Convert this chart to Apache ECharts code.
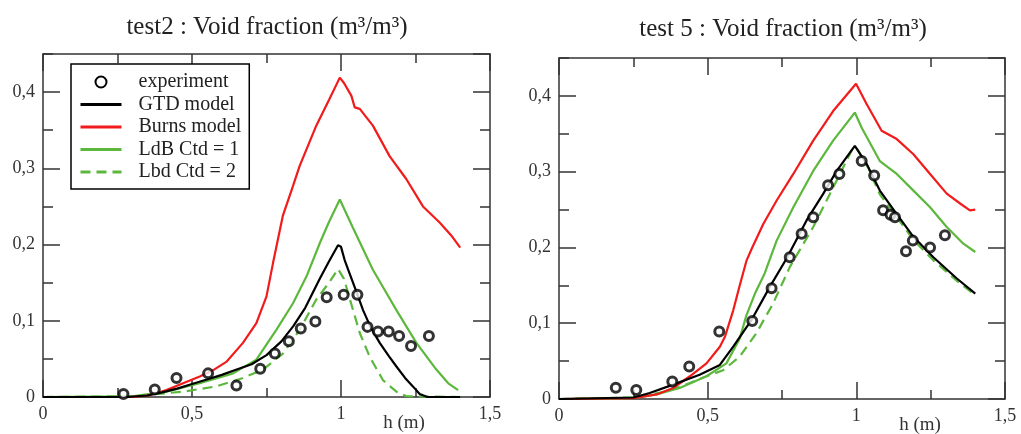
<!DOCTYPE html>
<html>
<head>
<meta charset="utf-8">
<script src="https://cdn.jsdelivr.net/npm/echarts@6/dist/echarts.min.js"></script>
<style>
  html, body { margin: 0; padding: 0; background: #fff; }
  #chart { width: 1021px; height: 434px; }
</style>
</head>
<body>
<div id="chart"></div>
<script>
// test2 (left panel)
const t2ExpX = [0.27, 0.375, 0.448, 0.554, 0.649, 0.729, 0.778, 0.825, 0.865, 0.914, 0.952, 1.009, 1.055, 1.089, 1.124, 1.16, 1.195, 1.235, 1.295];
const t2ExpY = [0.004, 0.010, 0.025, 0.031, 0.015, 0.037, 0.057, 0.073, 0.09, 0.099, 0.131, 0.134, 0.134, 0.092, 0.086, 0.086, 0.080, 0.067, 0.080];
const t2GtdX = [0, 0.28, 0.35, 0.4, 0.45, 0.5, 0.55, 0.6, 0.65, 0.7, 0.75, 0.8, 0.84, 0.88, 0.93, 0.96, 0.99, 1.0, 1.012, 1.024, 1.05, 1.074, 1.1, 1.13, 1.16, 1.186, 1.215, 1.242, 1.264, 1.29, 1.4];
const t2GtdY = [0, 0, 0.002, 0.006, 0.011, 0.017, 0.023, 0.029, 0.036, 0.043, 0.055, 0.073, 0.093, 0.117, 0.156, 0.178, 0.199, 0.197, 0.18, 0.167, 0.14, 0.114, 0.091, 0.071, 0.054, 0.04, 0.025, 0.0136, 0.004, 0, 0];
const t2BurnsX = [0, 0.3, 0.35, 0.38, 0.414, 0.47, 0.526, 0.57, 0.615, 0.671, 0.716, 0.75, 0.772, 0.805, 0.839, 0.861, 0.917, 0.96, 0.996, 1.01, 1.035, 1.046, 1.063, 1.107, 1.163, 1.219, 1.275, 1.331, 1.37, 1.4];
const t2BurnsY = [0, 0, 0.002, 0.005, 0.009, 0.018, 0.027, 0.035, 0.046, 0.071, 0.097, 0.132, 0.176, 0.238, 0.277, 0.303, 0.356, 0.39, 0.419, 0.412, 0.395, 0.38, 0.378, 0.356, 0.316, 0.286, 0.25, 0.229, 0.212, 0.196];
const t2Ctd1X = [0, 0.3, 0.414, 0.526, 0.638, 0.716, 0.783, 0.839, 0.884, 0.929, 0.96, 0.996, 1.04, 1.091, 1.107, 1.15, 1.186, 1.253, 1.32, 1.36, 1.393];
const t2Ctd1Y = [0, 0.001, 0.007, 0.018, 0.031, 0.049, 0.088, 0.123, 0.158, 0.202, 0.23, 0.259, 0.222, 0.18, 0.167, 0.138, 0.114, 0.071, 0.036, 0.018, 0.009];
const t2Ctd2X = [0, 0.3, 0.47, 0.582, 0.671, 0.738, 0.805, 0.861, 0.917, 0.96, 0.99, 1.01, 1.03, 1.063, 1.096, 1.141, 1.186, 1.22, 1.4];
const t2Ctd2Y = [0, 0.001, 0.007, 0.014, 0.025, 0.036, 0.057, 0.088, 0.128, 0.15, 0.168, 0.155, 0.128, 0.084, 0.053, 0.022, 0.007, 0.001, 0];

// test 5 (right panel)
const t5ExpX = [0.191, 0.26, 0.381, 0.438, 0.539, 0.65, 0.715, 0.776, 0.816, 0.855, 0.905, 0.943, 1.018, 1.06, 1.09, 1.115, 1.13, 1.167, 1.19, 1.248, 1.298];
const t5ExpY = [0.015, 0.012, 0.023, 0.043, 0.089, 0.103, 0.146, 0.187, 0.218, 0.24, 0.282, 0.297, 0.314, 0.295, 0.249, 0.243, 0.24, 0.195, 0.209, 0.2, 0.216];
const t5GtdX = [0, 0.25, 0.305, 0.384, 0.473, 0.541, 0.586, 0.647, 0.709, 0.765, 0.833, 0.889, 0.934, 0.995, 1.035, 1.079, 1.136, 1.192, 1.259, 1.338, 1.4];
const t5GtdY = [0, 0.002, 0.008, 0.019, 0.032, 0.045, 0.069, 0.104, 0.148, 0.185, 0.236, 0.271, 0.301, 0.334, 0.31, 0.275, 0.244, 0.214, 0.187, 0.159, 0.139];
const t5BurnsX = [0, 0.25, 0.328, 0.384, 0.44, 0.496, 0.541, 0.558, 0.586, 0.608, 0.631, 0.65, 0.687, 0.732, 0.788, 0.855, 0.922, 0.999, 1.035, 1.085, 1.136, 1.192, 1.248, 1.304, 1.349, 1.382, 1.4];
const t5BurnsY = [0, 0.001, 0.006, 0.0145, 0.03, 0.047, 0.069, 0.082, 0.117, 0.15, 0.183, 0.2, 0.231, 0.262, 0.297, 0.341, 0.38, 0.416, 0.389, 0.354, 0.343, 0.323, 0.297, 0.271, 0.258, 0.249, 0.25];
const t5Ctd1X = [0, 0.25, 0.328, 0.406, 0.496, 0.563, 0.608, 0.63, 0.66, 0.692, 0.732, 0.788, 0.855, 0.922, 0.995, 1.018, 1.079, 1.136, 1.192, 1.248, 1.304, 1.36, 1.4];
const t5Ctd1Y = [0, 0.001, 0.006, 0.0145, 0.03, 0.047, 0.08, 0.11, 0.14, 0.166, 0.209, 0.253, 0.301, 0.341, 0.378, 0.358, 0.314, 0.297, 0.275, 0.253, 0.227, 0.205, 0.194];
const t5Ctd2X = [0, 0.25, 0.361, 0.44, 0.496, 0.552, 0.608, 0.664, 0.72, 0.776, 0.855, 0.9, 0.945, 0.984, 1.0, 1.04, 1.079, 1.136, 1.192, 1.259, 1.338, 1.4];
const t5Ctd2Y = [0, 0.002, 0.01, 0.021, 0.03, 0.038, 0.056, 0.087, 0.126, 0.174, 0.227, 0.262, 0.297, 0.328, 0.332, 0.305, 0.27, 0.24, 0.21, 0.183, 0.156, 0.137];

const xTicks = [0, 0.5, 1, 1.5];
const yTicks = [0, 0.1, 0.2, 0.3, 0.4];
const legendNames = ["experiment", "GTD model", "Burns model", "LdB Ctd = 1", "Lbd Ctd = 2"];

const FONT = "Liberation Serif";
const AXIS_COLOR = "#333";
const RED = "#f21b1b";
const GREEN = "#5cb83c";

const zip = (xs, ys) => xs.map((x, i) => [x, ys[i]]);
const fmt = (v) => String(Math.round(v * 10) / 10).replace(".", ",");

function xAxes(g) {
  const base = {
    gridIndex: g,
    type: "value",
    min: xTicks[0],
    max: xTicks[xTicks.length - 1],
    interval: 0.5,
    splitLine: { show: false },
    axisLine: { show: true, onZero: false, lineStyle: { color: AXIS_COLOR, width: 1.5 } },
    axisTick: { inside: true, length: 17, lineStyle: { color: AXIS_COLOR, width: 1.5 } },
    minorTick: { show: true, splitNumber: 2, length: 9, lineStyle: { color: AXIS_COLOR, width: 1.5 } },
  };
  return [
    Object.assign({}, base, {
      position: "bottom",
      axisLabel: { fontFamily: FONT, fontSize: 18, color: "#333", margin: 8, formatter: fmt },
    }),
    Object.assign({}, base, { position: "top", axisLabel: { show: false } }),
  ];
}

function yAxes(g) {
  const base = {
    gridIndex: g,
    type: "value",
    min: yTicks[0],
    max: 0.45,
    splitLine: { show: false },
  };
  const major = {
    interval: 0.1,
    axisLine: { show: true, onZero: false, lineStyle: { color: AXIS_COLOR, width: 1.5 } },
    axisTick: { inside: true, length: 17, lineStyle: { color: AXIS_COLOR, width: 1.5 } },
  };
  const minor = {
    interval: 0.05,
    axisLine: { show: false, onZero: false },
    axisLabel: { show: false },
    axisTick: { inside: true, length: 10, lineStyle: { color: AXIS_COLOR, width: 1.5 } },
  };
  return [
    Object.assign({}, base, major, {
      position: "left",
      axisLabel: { fontFamily: FONT, fontSize: 18, color: "#333", margin: 8, formatter: fmt, showMaxLabel: false },
    }),
    Object.assign({}, base, major, { position: "right", axisLabel: { show: false } }),
    Object.assign({}, base, minor, { position: "left" }),
    Object.assign({}, base, minor, { position: "right" }),
  ];
}

function panelSeries(g, exp, gtd, burns, ctd1, ctd2) {
  const line = (name, data, color, type, z) => ({
    name: name,
    type: "line",
    xAxisIndex: g * 2,
    yAxisIndex: g * 4,
    data: data,
    symbol: "none",
    smooth: false,
    z: z,
    lineStyle: { color: color, width: 2.2, type: type },
    itemStyle: { color: color },
  });
  return [
    line("Lbd Ctd = 2", ctd2, GREEN, [10, 6], 2),
    line("LdB Ctd = 1", ctd1, GREEN, "solid", 3),
    line("Burns model", burns, RED, "solid", 4),
    line("GTD model", gtd, "#000", "solid", 5),
    {
      name: "experiment",
      type: "scatter",
      xAxisIndex: g * 2,
      yAxisIndex: g * 4,
      data: exp,
      symbol: "circle",
      symbolSize: 9,
      z: 6,
      itemStyle: { color: "#fff", borderColor: "#000", borderWidth: 3 },
    },
  ];
}

const chart = echarts.init(document.getElementById("chart"));
const option = {
  animation: false,
  backgroundColor: "#fff",
  grid: [
    { left: 43, top: 54, width: 447, height: 343 },
    { left: 559, top: 58, width: 446, height: 341 },
  ],
  xAxis: xAxes(0).concat(xAxes(1)),
  yAxis: yAxes(0).concat(yAxes(1)),
  legend: {
    data: legendNames.map((n, i) => (i === 0 ? { name: n, itemStyle: { opacity: 1 } } : n)),
    orient: "vertical",
    left: 71,
    top: 64,
    padding: [8, 8, 7, 8],
    itemWidth: 41,
    itemHeight: 11,
    itemGap: 2.5,
    selectedMode: false,
    backgroundColor: "#fff",
    borderColor: "#000",
    borderWidth: 1.5,
    borderRadius: 0,
    itemStyle: { opacity: 0 },
    lineStyle: { width: 3 },
    textStyle: { fontFamily: FONT, fontSize: 20, lineHeight: 20, color: "#222", padding: [0, 0, 0, 12] },
  },
  graphic: [
    { type: "text", x: 267, y: 27, style: { text: "test2 : Void fraction (m³/m³)", font: "25px " + FONT, fill: "#222", textAlign: "center", textVerticalAlign: "middle" } },
    { type: "text", x: 783, y: 29, style: { text: "test 5 : Void fraction (m³/m³)", font: "25px " + FONT, fill: "#222", textAlign: "center", textVerticalAlign: "middle" } },
    { type: "text", x: 404, y: 423, style: { text: "h (m)", font: "19px " + FONT, fill: "#333", textAlign: "center", textVerticalAlign: "middle" } },
    { type: "text", x: 920, y: 425, style: { text: "h (m)", font: "19px " + FONT, fill: "#333", textAlign: "center", textVerticalAlign: "middle" } },
  ],
  series: panelSeries(0, zip(t2ExpX, t2ExpY), zip(t2GtdX, t2GtdY), zip(t2BurnsX, t2BurnsY), zip(t2Ctd1X, t2Ctd1Y), zip(t2Ctd2X, t2Ctd2Y))
    .concat(panelSeries(1, zip(t5ExpX, t5ExpY), zip(t5GtdX, t5GtdY), zip(t5BurnsX, t5BurnsY), zip(t5Ctd1X, t5Ctd1Y), zip(t5Ctd2X, t5Ctd2Y))),
};
chart.setOption(option);
</script>
</body>
</html>
